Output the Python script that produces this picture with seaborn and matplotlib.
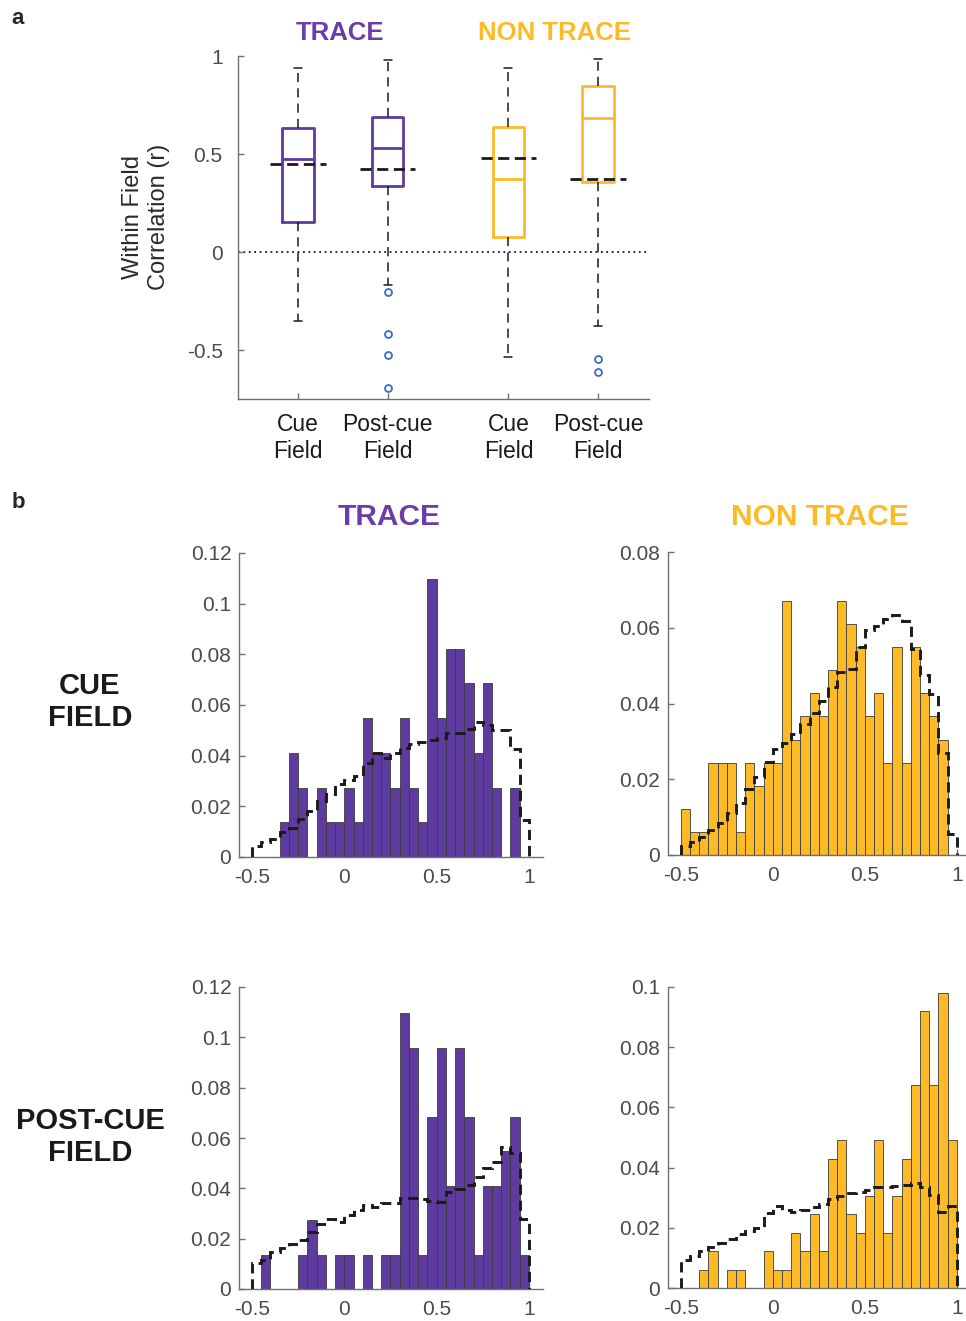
import numpy as np
import pandas as pd
import matplotlib
matplotlib.use("Agg")
import matplotlib.pyplot as plt
import seaborn as sns

# ---------------- data ----------------
group_titles = ["TRACE", "NON TRACE"]
row_titles = ["CUE\nFIELD", "POST-CUE\nFIELD"]

box_labels = ["Cue\nField", "Post-cue\nField", "Cue\nField", "Post-cue\nField"]
box_whislo = [-0.350, -0.170, -0.534, -0.378]
box_q1 = [0.155, 0.337, 0.078, 0.355]
box_med = [0.473, 0.529, 0.374, 0.682]
box_q3 = [0.634, 0.690, 0.639, 0.849]
box_whishi = [0.937, 0.980, 0.937, 0.983]
box_mean = [0.449, 0.422, 0.481, 0.371]
box_fliers = [[], [-0.204, -0.417, -0.527, -0.692], [], [-0.548, -0.611]]
box_yticks = [-0.5, 0, 0.5, 1]
box_yticklabels = ["-0.5", "0", "0.5", "1"]

hist_bin_edges = [-0.5, -0.45, -0.4, -0.35, -0.3, -0.25, -0.2, -0.15, -0.1, -0.05,
                  0.0, 0.05, 0.1, 0.15, 0.2, 0.25, 0.3, 0.35, 0.4, 0.45,
                  0.5, 0.55, 0.6, 0.65, 0.7, 0.75, 0.8, 0.85, 0.9, 0.95, 1.0]
hist_xticks = [-0.5, 0, 0.5, 1]
hist_xticklabels = ["-0.5", "0", "0.5", "1"]

trace_cue_counts = [0, 0, 0, 1, 3, 2, 0, 2, 1, 1,
                    2, 1, 4, 3, 3, 2, 4, 2, 1, 8,
                    4, 6, 6, 5, 3, 5, 2, 0, 2, 0]
trace_cue_n = 73
trace_cue_shuffle = [0.0042, 0.0059, 0.0070, 0.0099, 0.0116, 0.0151, 0.0180, 0.0220, 0.0250, 0.0290,
                     0.0305, 0.0318, 0.0370, 0.0410, 0.0390, 0.0410, 0.0430, 0.0447, 0.0454, 0.0460,
                     0.0470, 0.0490, 0.0490, 0.0507, 0.0533, 0.0520, 0.0500, 0.0500, 0.0428, 0.0145]
trace_cue_yticks = [0, 0.02, 0.04, 0.06, 0.08, 0.1, 0.12]
trace_cue_yticklabels = ["0", "0.02", "0.04", "0.06", "0.08", "0.1", "0.12"]

nontrace_cue_counts = [2, 1, 1, 4, 4, 4, 1, 4, 3, 4,
                       4, 11, 5, 6, 7, 6, 8, 11, 10, 9,
                       6, 7, 4, 9, 4, 9, 7, 6, 5, 0]
nontrace_cue_n = 164
nontrace_cue_shuffle = [0.0024, 0.0035, 0.0048, 0.0066, 0.0085, 0.0112, 0.0136, 0.0173, 0.0207, 0.0246,
                        0.0279, 0.0295, 0.0320, 0.0347, 0.0374, 0.0407, 0.0444, 0.0484, 0.0492, 0.0550,
                        0.0595, 0.0604, 0.0624, 0.0633, 0.0617, 0.0545, 0.0475, 0.0425, 0.0268, 0.0055]
nontrace_cue_yticks = [0, 0.02, 0.04, 0.06, 0.08]
nontrace_cue_yticklabels = ["0", "0.02", "0.04", "0.06", "0.08"]

trace_post_counts = [0, 1, 0, 0, 0, 1, 2, 1, 0, 1,
                     1, 0, 1, 0, 1, 1, 8, 7, 1, 5,
                     7, 3, 7, 5, 1, 3, 3, 4, 5, 1]
trace_post_n = 73
trace_post_shuffle = [0.0102, 0.0115, 0.0148, 0.0161, 0.0177, 0.0194, 0.0225, 0.0257, 0.0280, 0.0267,
                      0.0296, 0.0313, 0.0335, 0.0327, 0.0340, 0.0340, 0.0362, 0.0362, 0.0357, 0.0350,
                      0.0347, 0.0386, 0.0396, 0.0413, 0.0446, 0.0479, 0.0505, 0.0565, 0.0542, 0.0278]
trace_post_yticks = [0, 0.02, 0.04, 0.06, 0.08, 0.1, 0.12]
trace_post_yticklabels = ["0", "0.02", "0.04", "0.06", "0.08", "0.1", "0.12"]

nontrace_post_counts = [0, 0, 1, 2, 0, 1, 1, 0, 0, 2,
                        1, 1, 3, 2, 4, 2, 7, 8, 4, 3,
                        5, 8, 3, 5, 7, 11, 15, 11, 16, 8]
nontrace_post_n = 163
nontrace_post_shuffle = [0.0094, 0.0107, 0.0122, 0.0135, 0.0151, 0.0164, 0.0179, 0.0188, 0.0199, 0.0249,
                         0.0271, 0.0258, 0.0252, 0.0260, 0.0270, 0.0278, 0.0296, 0.0304, 0.0315, 0.0320,
                         0.0326, 0.0334, 0.0337, 0.0339, 0.0343, 0.0348, 0.0337, 0.0310, 0.0254, 0.0274]
nontrace_post_yticks = [0, 0.02, 0.04, 0.06, 0.08, 0.1]
nontrace_post_yticklabels = ["0", "0.02", "0.04", "0.06", "0.08", "0.1"]

# ---------------- style ----------------
PURPLE = "#5E3B9E"
PURPLE_TXT = "#6A3DAA"
GOLD = "#FDBA27"
FLIER = "#3A6BC6"
SPINE = "#707070"
TICKTXT = "#4a4a4a"

sns.set_theme(style="white")
plt.rcParams["font.family"] = ["Liberation Sans", "DejaVu Sans"]

W, H = 966, 1321
fig = plt.figure(figsize=(W / 100, H / 100), dpi=100)


def rect(left, top, right, bottom):
    return [left / W, 1 - bottom / H, (right - left) / W, (bottom - top) / H]


def style_axes(ax):
    sns.despine(ax=ax)
    for s in ("left", "bottom"):
        ax.spines[s].set_color(SPINE)
        ax.spines[s].set_linewidth(1.0)
    ax.tick_params(direction="in", length=4, width=1, color=SPINE,
                   labelcolor=TICKTXT, labelsize=15, left=True, bottom=True)


# ---------------- panel a ----------------
ax = fig.add_axes(rect(238, 56, 649, 399))
positions = [1, 2, 3.35, 4.35]
colors = [PURPLE, PURPLE, GOLD, GOLD]
stats = []
for i in range(4):
    stats.append(dict(whislo=box_whislo[i], q1=box_q1[i], med=box_med[i], q3=box_q3[i],
                      whishi=box_whishi[i], fliers=box_fliers[i], label=box_labels[i]))
bp = ax.bxp(stats, positions=positions, widths=0.35, capwidths=0.09, showfliers=True,
            patch_artist=False,
            whiskerprops=dict(color="k", lw=1.1, linestyle=(0, (6, 4))),
            capprops=dict(color="k", lw=1.1),
            boxprops=dict(lw=2.0),
            medianprops=dict(lw=2.0),
            flierprops=dict(marker="o", markerfacecolor="none", markeredgecolor=FLIER,
                            markersize=5, markeredgewidth=1.3, linestyle="none"))
for i in range(4):
    bp["boxes"][i].set_color(colors[i])
    bp["medians"][i].set_color(colors[i])
ax.hlines(box_mean, [p - 0.31 for p in positions], [p + 0.31 for p in positions],
          colors="k", linestyles=(0, (4, 2)), lw=2.0, zorder=5)
ax.axhline(0, color="k", lw=1.3, linestyle=(0, (1, 2)), zorder=0)
ax.set_xlim(0.33, 4.92)
ax.set_ylim(-0.75, 1.0)
ax.set_yticks(box_yticks)
ax.set_yticklabels(box_yticklabels)
ax.set_xticks(positions)
ax.set_xticklabels(box_labels)
style_axes(ax)
ax.tick_params(axis="x", labelsize=16.5, labelcolor="#1a1a1a", pad=10)
ax.tick_params(axis="y", pad=11)
for t in ax.get_xticklabels():
    t.set_linespacing(1.25)
ax.set_ylabel("Within Field\nCorrelation (r)", fontsize=17, color="#2a2a2a", linespacing=1.25)
ax.yaxis.set_label_coords(-0.165, 0.53)

fig.text(340 / W, 1 - 33 / H, group_titles[0], color=PURPLE_TXT, fontsize=18.5,
         weight="bold", ha="center", va="center")
fig.text(555 / W, 1 - 33 / H, group_titles[1], color=GOLD, fontsize=18.5,
         weight="bold", ha="center", va="center")
fig.text(18 / W, 1 - 18 / H, "a", fontsize=16, weight="bold", ha="center", va="center")
fig.text(18 / W, 1 - 503 / H, "b", fontsize=16, weight="bold", ha="center", va="center")

# ---------------- panel b ----------------
edges = np.array(hist_bin_edges)
centers = (edges[:-1] + edges[1:]) / 2

panels = [
    (rect(239, 553, 543, 857), trace_cue_counts, trace_cue_n, trace_cue_shuffle,
     PURPLE, trace_cue_yticks, trace_cue_yticklabels, 1.076),
    (rect(668, 552, 966, 855), nontrace_cue_counts, nontrace_cue_n, nontrace_cue_shuffle,
     GOLD, nontrace_cue_yticks, nontrace_cue_yticklabels, 1.05),
    (rect(239, 987, 543, 1289), trace_post_counts, trace_post_n, trace_post_shuffle,
     PURPLE, trace_post_yticks, trace_post_yticklabels, 1.076),
    (rect(668, 987, 966, 1288), nontrace_post_counts, nontrace_post_n, nontrace_post_shuffle,
     GOLD, nontrace_post_yticks, nontrace_post_yticklabels, 1.05),
]

for r, counts, n, shuffle, col, yt, ytl, xmax in panels:
    ax = fig.add_axes(r)
    df = pd.DataFrame({"r": centers, "p": np.array(counts, dtype=float) / n})
    sns.histplot(data=df, x="r", weights="p", bins=list(hist_bin_edges), ax=ax,
                 color=col, alpha=1, edgecolor="#3c3c3c", linewidth=0.6)
    ax.stairs(shuffle, edges, baseline=0, fill=False, color="k", lw=2.1,
              linestyle=(0, (3.5, 2)), zorder=4)
    ax.set_xlim(-0.57, xmax)
    ax.set_ylim(yt[0], yt[-1])
    ax.set_xticks(hist_xticks)
    ax.set_xticklabels(hist_xticklabels)
    ax.set_yticks(yt)
    ax.set_yticklabels(ytl)
    ax.set_ylabel("")
    ax.set_xlabel("")
    style_axes(ax)
    ax.tick_params(axis="x", pad=8)
    ax.tick_params(axis="y", pad=5.5)

fig.text(389 / W, 1 - 517 / H, group_titles[0], color=PURPLE_TXT, fontsize=21.5,
         weight="bold", ha="center", va="center")
fig.text(820 / W, 1 - 517 / H, group_titles[1], color=GOLD, fontsize=21.5,
         weight="bold", ha="center", va="center")
fig.text(90 / W, 1 - 702 / H, row_titles[0], color="k", fontsize=21,
         weight="bold", ha="center", va="center", linespacing=1.2)
fig.text(90 / W, 1 - 1137 / H, row_titles[1], color="k", fontsize=21,
         weight="bold", ha="center", va="center", linespacing=1.2)

fig.savefig("out.png", dpi=100)
